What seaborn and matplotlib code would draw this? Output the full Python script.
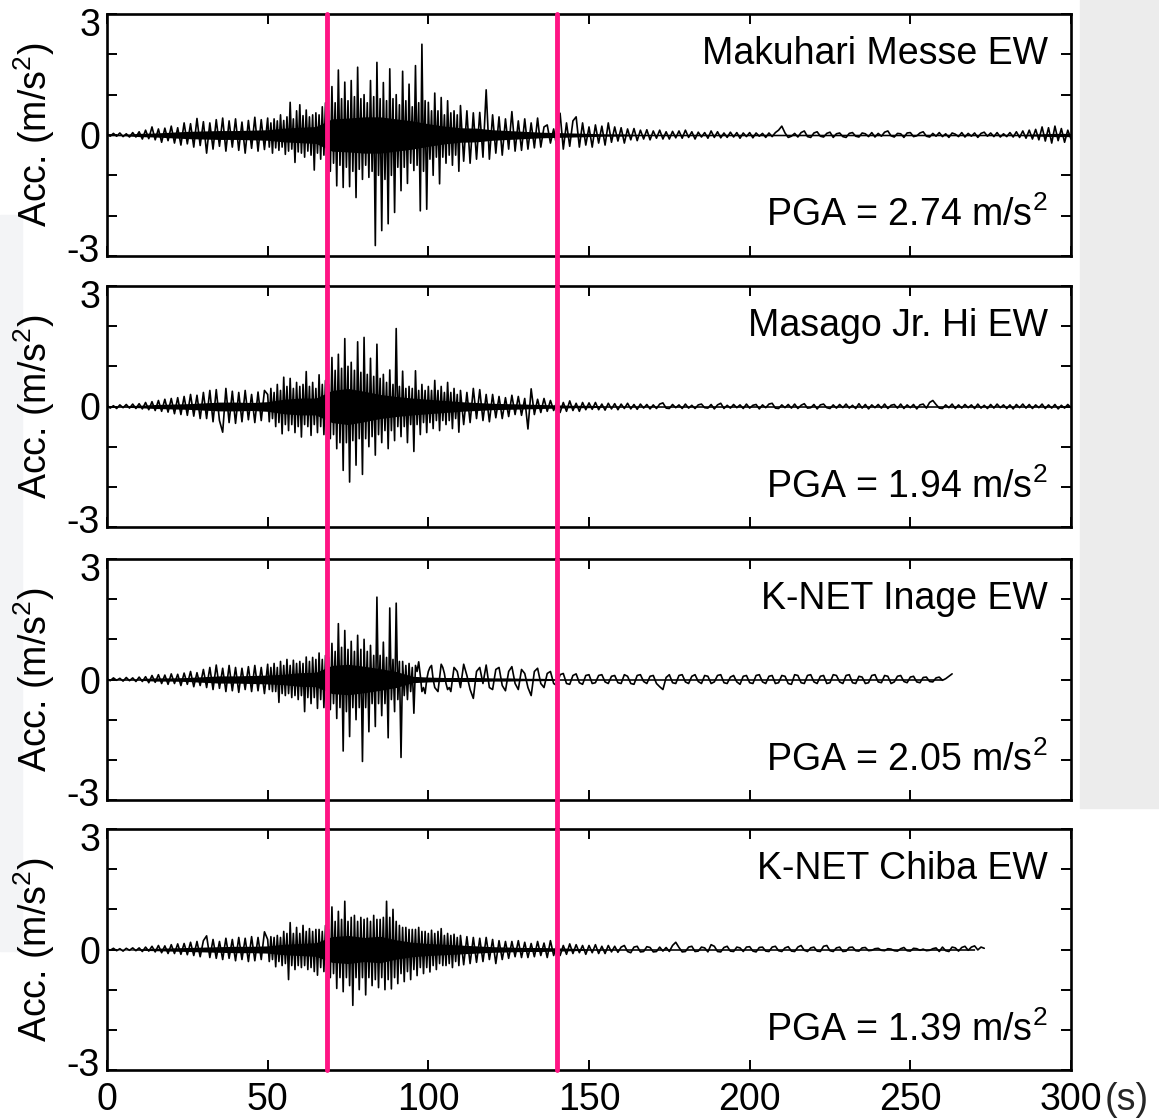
import numpy as np
import matplotlib.pyplot as plt
import seaborn as sns
from matplotlib.patches import Rectangle
from matplotlib.transforms import ScaledTranslation

# station names, peak ground acceleration and the two phase marks (s)
stations = ['Makuhari Messe EW', 'Masago Jr. Hi EW', 'K-NET Inage EW', 'K-NET Chiba EW']
pga = [2.74, 1.94, 2.05, 1.39]
phase_marks = [68.5, 140]

# traces (m/s2):
#   *_early  : 0-49 s, one value per second
#   *_strong : 50-109.5 s, one value per half second
#   *_late   : 110 s to the end of the record, one value per second
makuhari_early = [
    0.02, -0.03, 0.04, -0.03, 0.05, -0.04, 0.03, -0.05, 0.06, -0.05,
    0.08, -0.1, 0.12, -0.09, 0.2, -0.12, 0.15, -0.18, 0.17, -0.14,
    0.22, -0.2, 0.18, -0.25, 0.3, -0.22, 0.28, -0.3, 0.41, -0.26,
    0.33, -0.45, 0.3, -0.35, 0.38, -0.28, 0.42, -0.4, 0.35, -0.3,
    0.4, -0.38, 0.32, -0.45, 0.36, -0.33, 0.44, -0.4, 0.38, -0.36,
]
makuhari_strong = [
    0.42, -0.3, 0.3, -0.45, 0.4, -0.32, 0.35, -0.38, 0.5, -0.3,
    0.36, -0.48, 0.45, -0.4, 0.81, -0.35, 0.4, -0.68, 0.6, -0.42,
    0.75, -0.45, 0.48, -0.55, 0.62, -0.4, 0.45, -0.5, 0.5, -0.87,
    0.55, -0.45, 0.5, -0.6, 0.7, -0.5, 0.8, -0.55, 0.6, -0.9,
    1.2, -0.7, 0.8, -1.26, 1.61, -0.75, 0.9, -1.3, 1.31, -0.8,
    0.85, -1.28, 1.35, -0.9, 0.95, -1.55, 1.68, -0.85, 0.9, -1.1,
    1.0, -0.75, 0.8, -1.05, 1.35, -0.9, 0.95, -2.74, 1.8, -1.0,
    0.9, -2.37, 1.3, -1.1, 0.85, -2.2, 1.64, -1.0, 0.9, -1.92,
    1.0, -0.8, 0.75, -1.38, 1.58, -0.8, 0.85, -1.2, 1.26, -0.7,
    0.7, -0.88, 1.72, -0.75, 0.8, -1.88, 2.25, -0.9, 0.85, -1.84,
    0.81, -0.6, 0.6, -1.0, 1.04, -0.55, 0.6, -1.21, 0.93, -0.55,
    0.5, -0.7, 0.85, -0.5, 0.55, -0.75, 0.6, -0.5, 0.5, -0.9,
]
makuhari_late = [
    0.73, -0.65, 0.6, -0.7, 0.55, -0.6, 0.56, -0.55, 1.12, -0.6,
    0.5, -0.45, 0.45, -0.5, 0.4, -0.35, 0.58, -0.4, 0.35, -0.38,
    0.4, -0.35, 0.3, -0.32, 0.42, -0.3, 0.2, 0.25, -0.2, 0.15,
    -0.3, 0.54, -0.35, 0.3, -0.28, 0.35, 0.45, -0.3, 0.3, -0.25,
    0.2, -0.3, 0.25, -0.2, 0.22, -0.25, 0.3, -0.18, 0.2, -0.15,
    0.18, -0.2, 0.15, -0.12, 0.16, -0.14, 0.12, -0.1, 0.13, -0.12,
    0.1, -0.08, 0.12, -0.1, 0.08, -0.1, 0.09, -0.07, 0.1, -0.08,
    0.12, -0.06, 0.08, -0.1, 0.07, -0.05, 0.06, -0.08, 0.1, -0.06,
    0.08, -0.07, 0.05, -0.06, 0.07, -0.05, 0.06, -0.08, 0.05, -0.04,
    0.06, -0.07, 0.05, -0.03, 0.04, -0.06, 0.05, -0.04, 0.06, 0.12,
    0.22, 0.05, -0.06, -0.03, 0.04, -0.05, 0.06, 0.1, -0.04, -0.06,
    0.05, 0.08, -0.03, -0.05, 0.04, 0.07, -0.06, 0.03, 0.05, -0.04,
    -0.06, 0.04, 0.06, -0.03, -0.05, 0.05, 0.03, -0.04, 0.06, -0.05,
    0.04, -0.03, 0.07, 0.1, -0.02, -0.05, 0.04, 0.03, -0.06, 0.05,
    0.06, -0.04, -0.02, 0.05, 0.08, -0.03, -0.05, 0.04, -0.03, 0.06,
    -0.04, 0.03, -0.06, 0.05, 0.02, -0.04, 0.06, -0.05, 0.04, -0.03,
    0.05, -0.06, 0.04, 0.07, -0.03, 0.05, -0.04, 0.06, -0.05, 0.03,
    -0.04, 0.06, -0.05, 0.08, -0.06, 0.1, -0.08, 0.12, -0.1, 0.14,
    -0.12, 0.2, -0.15, 0.18, -0.2, 0.22, -0.14, 0.16, -0.18, 0.12, -0.1,
]

masago_early = [
    0.03, -0.04, 0.02, -0.05, 0.04, -0.03, 0.05, -0.04, 0.06, -0.05,
    0.07, -0.06, 0.1, -0.08, 0.12, -0.1, 0.15, -0.12, 0.18, -0.14,
    0.2, -0.18, 0.22, -0.2, 0.25, -0.22, 0.3, -0.24, 0.28, -0.3,
    0.35, -0.3, 0.4, -0.38, 0.42, -0.35, -0.64, 0.45, -0.4, 0.38,
    -0.42, 0.35, -0.38, 0.4, -0.33, 0.3, -0.4, 0.36, -0.35, 0.4,
]
masago_strong = [
    0.3, -0.38, 0.45, -0.3, 0.35, -0.5, 0.55, -0.4, 0.4, -0.68,
    0.73, -0.45, 0.5, -0.6, 0.7, -0.45, 0.45, -0.65, 0.6, -0.5,
    0.5, -0.76, 0.55, -0.45, 0.87, -0.5, 0.5, -0.72, 0.6, -0.45,
    0.45, -0.65, 0.79, -0.5, 0.55, -0.7, 0.65, -0.5, 0.55, -0.8,
    1.22, -0.7, 0.9, -1.05, 1.3, -0.9, 0.95, -1.59, 1.69, -0.9,
    1.0, -1.88, 1.1, -0.85, 0.9, -1.46, 1.61, -0.8, 0.85, -1.69,
    1.72, -0.8, 0.8, -1.0, 1.2, -0.75, 0.75, -1.21, 1.55, -0.7,
    0.7, -0.9, 0.8, -0.6, 0.6, -1.05, 0.91, -0.6, 0.55, -0.85,
    1.94, -0.5, 0.5, -0.75, 0.88, -0.5, 0.45, -0.9, 0.5, -0.45,
    0.45, -1.12, 0.89, -0.45, 0.4, -0.7, 0.55, -0.4, 0.4, -0.65,
    0.5, -0.4, 0.4, -0.55, 0.65, -0.35, 0.4, -0.6, 0.5, -0.35,
    0.35, -0.45, 0.6, -0.35, 0.35, -0.55, 0.45, -0.3, 0.3, -0.64,
]
masago_late = [
    0.4, -0.45, 0.35, -0.4, 0.45, -0.3, 0.42, -0.35, 0.3, -0.38,
    0.3, -0.28, 0.25, -0.3, 0.22, -0.25, 0.28, -0.2, 0.25, -0.22,
    0.2, -0.56, 0.44, -0.2, 0.18, -0.15, 0.2, -0.12, 0.15, -0.1,
    0.12, -0.15, 0.1, -0.12, 0.14, -0.1, 0.08, -0.12, 0.1, -0.08,
    0.09, -0.07, 0.1, -0.08, 0.06, -0.09, 0.08, -0.06, 0.07, -0.08,
    0.06, -0.05, 0.08, -0.06, 0.05, -0.07, 0.06, -0.04, 0.05, -0.06,
    0.04, -0.05, 0.06, 0.09, -0.04, -0.05, 0.05, -0.03, 0.04, -0.05,
    0.06, -0.04, 0.03, -0.05, 0.04, 0.06, -0.03, -0.04, 0.05, -0.06,
    0.04, 0.08, -0.05, 0.03, -0.04, 0.05, -0.03, 0.04, -0.05, 0.06,
    -0.04, 0.03, 0.05, -0.06, 0.04, -0.03, 0.06, 0.08, -0.04, -0.05,
    0.04, -0.03, 0.05, -0.04, 0.06, -0.05, 0.03, 0.07, -0.04, -0.03,
    0.05, -0.06, 0.04, 0.06, -0.03, -0.05, 0.04, -0.04, 0.05, -0.03,
    0.06, -0.04, 0.03, -0.05, 0.07, -0.04, 0.05, -0.06, 0.04, -0.03,
    0.05, -0.04, 0.06, -0.05, 0.03, 0.05, -0.04, 0.06, -0.05, 0.04,
    -0.03, 0.05, -0.06, 0.04, 0.06, -0.04, 0.1, 0.15, 0.05, -0.04,
    -0.05, 0.04, -0.03, 0.06, -0.05, 0.04, -0.04, 0.05, -0.03, 0.04,
    -0.05, 0.06, -0.04, 0.03, -0.05, 0.05, -0.04, 0.06, -0.03, 0.04,
    -0.05, 0.04, -0.06, 0.05, -0.03, 0.06, -0.04, 0.05, -0.05, 0.04,
    -0.03, 0.06, -0.05, 0.04, -0.04, 0.05, -0.06, 0.03, -0.04, 0.05, -0.03,
]

inage_early = [
    0.02, -0.03, 0.04, -0.02, 0.03, -0.04, 0.05, -0.03, 0.04, -0.05,
    0.06, -0.05, 0.07, -0.08, 0.1, -0.07, 0.12, -0.1, 0.11, -0.12,
    0.14, -0.1, 0.13, -0.15, 0.16, -0.12, 0.2, -0.18, 0.17, -0.15,
    0.25, -0.2, 0.3, -0.25, 0.36, -0.22, 0.28, -0.3, 0.35, -0.28,
    0.3, -0.32, 0.28, -0.25, 0.32, -0.3, 0.35, -0.28, 0.3, -0.35,
]
inage_strong = [
    0.38, -0.25, 0.3, -0.3, 0.4, -0.3, 0.3, -0.57, 0.45, -0.35,
    0.35, -0.4, 0.5, -0.35, 0.35, -0.45, 0.48, -0.4, 0.4, -0.5,
    0.45, -0.4, 0.4, -0.8, 0.56, -0.45, 0.45, -0.6, 0.55, -0.45,
    0.5, -0.72, 0.66, -0.5, 0.5, -0.7, 0.6, -0.5, 0.55, -0.75,
    0.9, -0.6, 0.7, -0.97, 1.39, -0.7, 0.8, -1.78, 1.22, -0.8,
    0.75, -1.42, 0.95, -0.7, 0.7, -1.0, 1.1, -0.7, 0.75, -2.04,
    1.0, -0.7, 0.7, -1.3, 0.85, -0.6, 0.6, -1.17, 2.05, -0.6,
    0.6, -0.9, 0.93, -0.6, 0.55, -1.45, 1.78, -0.5, 0.5, -0.8,
    1.9, -0.5, 0.45, -1.94, 0.45, -0.4, 0.35, -0.5, 0.4, -0.3,
    0.3, -0.84, 0.35, 0.2, 0.44, 0.1, -0.3, -0.2, -0.35, 0.0,
    0.2, 0.3, 0.35, 0.0, -0.2, -0.25, -0.3, 0.05, 0.38, 0.3,
    0.15, -0.1, -0.25, -0.2, -0.3, 0.0, 0.3, 0.25, 0.2, 0.0,
]
inage_late = [
    -0.2, 0.38, 0.1, -0.25, -0.47, 0.2, 0.3, -0.1, 0.36, -0.2,
    -0.25, 0.25, 0.3, -0.15, -0.28, 0.2, 0.32, -0.1, -0.25, 0.25,
    0.15, -0.2, -0.4, 0.2, 0.28, -0.1, -0.2, 0.15, 0.2, -0.1,
    -0.15, 0.12, 0.15, -0.1, -0.12, 0.1, 0.14, -0.08, -0.12, 0.1,
    0.12, -0.1, -0.08, 0.1, 0.12, -0.06, -0.1, 0.08, 0.1, -0.08,
    -0.1, 0.12, 0.08, -0.1, -0.12, 0.1, 0.12, -0.05, -0.1, 0.08,
    0.1, -0.1, -0.18, -0.25, 0.05, 0.12, -0.08, -0.1, 0.1, 0.12,
    -0.06, -0.1, 0.08, 0.12, -0.05, -0.1, 0.1, 0.08, -0.1, -0.06,
    0.1, 0.12, -0.08, -0.1, 0.06, 0.1, -0.06, -0.12, 0.08, 0.1,
    -0.08, -0.1, 0.1, 0.12, -0.06, -0.1, 0.08, 0.1, -0.1, -0.08,
    0.1, 0.08, -0.1, -0.12, 0.12, 0.1, -0.08, -0.1, 0.1, 0.12,
    -0.06, -0.1, 0.08, 0.1, -0.1, -0.08, 0.12, 0.1, -0.06, -0.1,
    0.1, 0.12, -0.08, -0.1, 0.08, 0.06, -0.1, -0.08, 0.1, 0.12,
    -0.06, -0.08, 0.1, 0.08, -0.1, -0.06, 0.08, 0.1, -0.05, -0.08,
    0.06, 0.08, -0.06, -0.08, 0.05, 0.06, -0.05, -0.06, 0.04, 0.06,
    -0.02, 0.02, 0.08, 0.14,
]

chiba_early = [
    0.02, -0.02, 0.03, -0.03, 0.02, -0.04, 0.03, -0.02, 0.04, -0.03,
    0.04, -0.05, 0.06, -0.04, 0.08, -0.06, 0.1, -0.08, 0.09, -0.1,
    0.12, -0.1, 0.14, -0.12, 0.15, -0.13, 0.18, -0.15, 0.2, -0.18,
    0.22, 0.34, -0.2, 0.25, -0.22, 0.2, -0.25, 0.28, -0.22, 0.25,
    -0.28, 0.3, -0.25, 0.28, -0.3, 0.32, -0.28, 0.3, -0.25, 0.44,
]
chiba_strong = [
    0.25, -0.3, 0.32, -0.25, 0.3, -0.43, 0.35, -0.3, 0.3, -0.4,
    0.45, -0.35, 0.4, -0.75, 0.67, -0.4, 0.4, -0.5, 0.55, -0.4,
    0.4, -0.45, 0.6, -0.4, 0.45, -0.5, 0.52, -0.45, 0.45, -0.55,
    0.5, -0.64, 0.5, -0.45, 0.45, -0.55, 0.6, -0.5, 0.5, -0.7,
    1.06, -0.6, 0.7, -0.97, 0.95, -0.7, 0.75, -1.05, 1.2, -0.7,
    0.7, -0.9, 0.8, -1.39, 0.85, -0.7, 0.7, -1.0, 0.8, -0.7,
    0.75, -1.13, 0.78, -0.7, 0.7, -0.9, 0.85, -0.75, 0.75, -0.95,
    0.75, -0.7, 0.8, -1.0, 1.2, -0.75, 0.8, -0.98, 1.0, -0.7,
    0.7, -0.85, 0.6, -0.6, 0.55, -0.8, 0.55, -0.55, 0.5, -0.75,
    0.5, -0.5, 0.5, -0.65, 0.55, -0.45, 0.45, -0.6, 0.45, -0.45,
    0.4, -0.56, 0.48, -0.4, 0.4, -0.5, 0.45, -0.35, 0.52, -0.4,
    0.35, -0.4, 0.4, -0.35, 0.35, -0.45, 0.38, -0.3, 0.3, -0.4,
]
chiba_late = [
    0.35, -0.38, 0.32, -0.35, 0.3, -0.32, 0.28, -0.3, 0.3, -0.25,
    0.25, -0.35, 0.22, -0.25, 0.2, -0.22, 0.2, -0.18, 0.22, -0.2,
    0.18, -0.2, 0.15, -0.18, 0.2, -0.15, 0.16, -0.2, 0.22, -0.15,
    0.12, -0.15, 0.1, -0.12, 0.14, -0.1, 0.12, -0.08, 0.1, -0.12,
    0.1, -0.08, 0.12, -0.1, 0.08, -0.1, 0.1, -0.06, 0.08, -0.07,
    0.06, 0.1, -0.05, -0.08, 0.06, 0.08, -0.06, -0.05, 0.07, 0.05,
    -0.06, -0.05, 0.06, -0.04, 0.05, -0.05, 0.1, 0.18, 0.05, -0.06,
    -0.05, 0.06, 0.08, -0.05, -0.04, 0.06, 0.04, -0.06, 0.12, 0.08,
    -0.05, -0.06, 0.05, 0.08, -0.04, -0.05, 0.06, 0.04, -0.05, 0.06,
    0.07, -0.04, -0.06, 0.05, 0.06, -0.04, -0.05, 0.06, 0.08, -0.03,
    -0.05, 0.04, 0.07, -0.04, -0.05, 0.06, 0.1, -0.02, -0.05, 0.04,
    0.06, -0.04, -0.05, 0.08, 0.1, -0.03, -0.05, 0.04, 0.06, -0.05,
    -0.04, 0.05, 0.06, -0.03, -0.04, 0.04, 0.05, -0.03, -0.02, 0.02,
    0.03, -0.02, -0.03, 0.02, 0.01, -0.03, -0.04, 0.02, 0.05, -0.03,
    -0.04, 0.03, 0.02, -0.02, 0.01, -0.03, -0.02, 0.02, 0.04, -0.05,
    0.06, -0.03, -0.05, 0.06, 0.04, -0.04, 0.05, 0.08, -0.02, 0.06,
    0.09, -0.01, 0.06, 0.03,
]

# half-width of the solid inner band, every 5 s (m/s2)
core_makuhari = [
    0.02, 0.02, 0.04, 0.05, 0.07, 0.09, 0.1, 0.11, 0.11, 0.12,
    0.13, 0.17, 0.19, 0.21, 0.4, 0.42, 0.45, 0.45, 0.4, 0.35,
    0.28, 0.22, 0.18, 0.17, 0.13, 0.11, 0.09, 0.07, 0.06, 0.05,
    0.04, 0.03, 0.03, 0.02, 0.02, 0.02, 0.02, 0.02, 0.02, 0.02,
    0.02, 0.02, 0.02, 0.02, 0.02, 0.02, 0.02, 0.02, 0.02, 0.02,
    0.02, 0.02, 0.02, 0.02, 0.02, 0.02, 0.02, 0.02, 0.03, 0.04, 0.04,
]
core_masago = [
    0.02, 0.02, 0.03, 0.05, 0.06, 0.07, 0.09, 0.11, 0.11, 0.1,
    0.12, 0.18, 0.21, 0.21, 0.4, 0.45, 0.38, 0.3, 0.25, 0.21,
    0.18, 0.15, 0.12, 0.1, 0.08, 0.07, 0.06, 0.05, 0.04, 0.03,
    0.03, 0.02, 0.02, 0.02, 0.02, 0.02, 0.02, 0.02, 0.02, 0.02,
    0.02, 0.02, 0.02, 0.02, 0.02, 0.02, 0.02, 0.02, 0.02, 0.02,
    0.02, 0.02, 0.02, 0.02, 0.02, 0.02, 0.02, 0.02, 0.02, 0.02, 0.02,
]
core_inage = [
    0.01, 0.02, 0.02, 0.04, 0.04, 0.05, 0.07, 0.09, 0.09, 0.1,
    0.11, 0.13, 0.17, 0.18, 0.35, 0.38, 0.33, 0.27, 0.2, 0.08,
    0.06, 0.05, 0.05, 0.05, 0.04, 0.04, 0.03, 0.03, 0.02, 0.02,
    0.02, 0.02, 0.02, 0.02, 0.02, 0.02, 0.02, 0.02, 0.02, 0.02,
    0.02, 0.02, 0.02, 0.02, 0.02, 0.02, 0.02, 0.02, 0.02, 0.02,
    0.02, 0.02, 0.02,
]
core_chiba = [
    0.01, 0.01, 0.02, 0.03, 0.04, 0.05, 0.06, 0.07, 0.08, 0.08,
    0.09, 0.13, 0.15, 0.17, 0.32, 0.35, 0.3, 0.33, 0.24, 0.18,
    0.15, 0.13, 0.11, 0.09, 0.07, 0.06, 0.05, 0.05, 0.04, 0.03,
    0.02, 0.02, 0.02, 0.02, 0.02, 0.02, 0.02, 0.02, 0.02, 0.02,
    0.02, 0.02, 0.02, 0.02, 0.02, 0.02, 0.02, 0.02, 0.02, 0.02,
    0.02, 0.02, 0.02, 0.02, 0.02,
]

traces = [
    (makuhari_early, makuhari_strong, makuhari_late),
    (masago_early, masago_strong, masago_late),
    (inage_early, inage_strong, inage_late),
    (chiba_early, chiba_strong, chiba_late),
]
cores = [core_makuhari, core_masago, core_inage, core_chiba]

sns.set_theme(style='ticks')
plt.rcParams['font.family'] = ['Liberation Sans', 'DejaVu Sans']
plt.rcParams['mathtext.fontset'] = 'custom'
plt.rcParams['mathtext.rm'] = 'Liberation Sans'
plt.rcParams['mathtext.it'] = 'Liberation Sans:italic'

fig = plt.figure(figsize=(11.59, 11.19), dpi=100)
W, H = 1159, 1119

# slide background bits around the figure
fig.patches.append(Rectangle((1080 / W, 1 - 808 / H), 79 / W, 808 / H,
                             transform=fig.transFigure, color='#ececec', zorder=-5))
fig.patches.append(Rectangle((0, 1 - 951 / H), 22 / W, (951 - 215) / H,
                             transform=fig.transFigure, color='#f3f4f6', zorder=-5))

panels = [(14, 256), (286, 527), (559, 800), (829, 1070)]
fs = 27
for i, (top, bot) in enumerate(panels):
    ax = fig.add_axes([107 / W, 1 - bot / H, 964 / W, (bot - top) / H])
    early, strong, late = traces[i]
    acc = np.array(early + strong + late)
    t = np.concatenate([np.arange(len(early)),
                        50 + 0.5 * np.arange(len(strong)),
                        110 + np.arange(len(late))])
    core = np.array(cores[i])
    tc = np.arange(len(core)) * 5
    ax.fill_between(tc, -core, core, color='black', lw=0, zorder=2)
    sns.lineplot(x=t, y=acc, ax=ax, color='black', linewidth=1.2,
                 estimator=None, zorder=3)

    last = i == len(panels) - 1
    for xm in phase_marks:
        ax.axvline(xm, ymin=0 if last else -0.14, ymax=1, color='#ff1484',
                   lw=3.5, clip_on=False, zorder=5)

    ax.set_xlim(0, 300)
    ax.set_ylim(-3, 3)
    ax.set_xticks(range(0, 301, 50))
    ax.set_yticks([-3, -2, -1, 0, 1, 2, 3])
    ax.set_yticklabels(['-3', '', '', '0', '', '', '3'], fontsize=fs)
    if last:
        ax.set_xticklabels([str(v) for v in range(0, 301, 50)], fontsize=fs)
    else:
        ax.set_xticklabels([])
    ax.tick_params(direction='in', length=7, width=1.4, top=True, right=True,
                   color='black', labelcolor='black')
    ax.tick_params(axis='x', pad=9)
    ax.tick_params(axis='y', pad=5)
    for s in ax.spines.values():
        s.set_linewidth(1.9)
        s.set_color('black')
    ax.grid(False)

    # nudge the end labels inward as in the original
    ylabs = ax.get_yticklabels()
    ylabs[-1].set_transform(ylabs[-1].get_transform() + ScaledTranslation(0, -0.08, fig.dpi_scale_trans))
    ylabs[0].set_transform(ylabs[0].get_transform() + ScaledTranslation(0, 0.08, fig.dpi_scale_trans))

    ax.set_xlabel('')
    ax.set_ylabel('Acc. (m/s$^2$)', fontsize=fs, color='black')
    ax.yaxis.set_label_coords(-0.052, 0.5)

    ax.text(0.976, 2, stations[i], transform=ax.get_yaxis_transform(),
            ha='right', va='center', fontsize=fs, color='black')
    ax.text(0.976, -2, f'PGA = {pga[i]:.2f} m/s$^2$', transform=ax.get_yaxis_transform(),
            ha='right', va='center', fontsize=fs, color='black')

fig.text(1127 / W, 1 - 1100 / H, '(s)', ha='center', va='center', fontsize=fs)

fig.savefig('out.png', dpi=100)
